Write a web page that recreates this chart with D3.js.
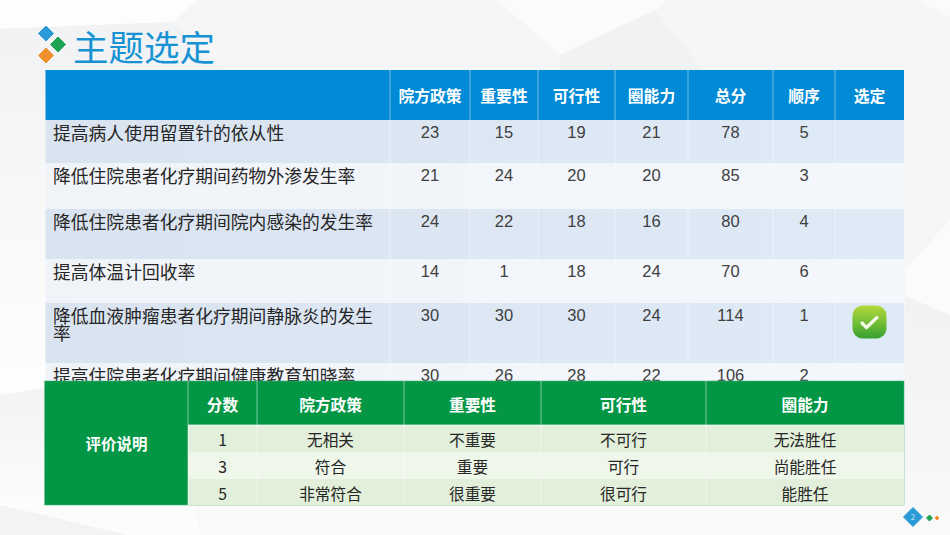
<!DOCTYPE html>
<html>
<head>
<meta charset="utf-8">
<script src="https://cdnjs.cloudflare.com/ajax/libs/d3/7.8.5/d3.min.js"></script>
<style>
  html, body { margin: 0; padding: 0; background: #fff; overflow: hidden; }
  text { font-family: "Noto Sans CJK SC", "Noto Sans", sans-serif; }
</style>
</head>
<body>
<svg id="chart" width="950" height="535"></svg>
<script>
const title = '主题选定'

// top table
const topColumns = ['', '院方政策', '重要性', '可行性', '圈能力', '总分', '顺序', '选定']
const topics = [
  ['提高病人使用留置针的依从性'],
  ['降低住院患者化疗期间药物外渗发生率'],
  ['降低住院患者化疗期间院内感染的发生率'],
  ['提高体温计回收率'],
  ['降低血液肿瘤患者化疗期间静脉炎的发生', '率'],
  ['提高住院患者化疗期间健康教育知晓率']
]
const policy = [23, 21, 24, 14, 30, 30]
const importance = [15, 24, 22, 1, 30, 26]
const feasibility = [19, 20, 18, 18, 30, 28]
const capability = [21, 20, 16, 24, 24, 22]
const total = [78, 85, 80, 70, 114, 106]
const rank = [5, 3, 4, 6, 1, 2]
const selected = 1

// bottom table
const legendTitle = '评价说明'
const legendColumns = ['分数', '院方政策', '重要性', '可行性', '圈能力']
const scores = [1, 3, 5]
const policyLabels = ['无相关', '符合', '非常符合']
const importanceLabels = ['不重要', '重要', '很重要']
const feasibilityLabels = ['不可行', '可行', '很可行']
const capabilityLabels = ['无法胜任', '尚能胜任', '能胜任']
const pageNumber = 2

const topX = [45.5, 390, 470, 538, 615, 688, 773, 835, 904]
const topY = [70, 120, 163, 209, 259, 303, 363, 408]
const lowX = [188, 257, 404, 541, 706, 904]
const lowY = [381, 425, 452, 479, 505]

const svg = d3.select('#chart')
const defs = svg.append('defs')

const gradient = (id, dir, stops) => {
  const g = defs.append('linearGradient').attr('id', id)
    .attr('x1', 0).attr('y1', 0)
    .attr('x2', dir === 'h' ? 1 : 0).attr('y2', dir === 'h' ? 0 : 1)
  stops.forEach(s => g.append('stop').attr('offset', s[0]).attr('stop-color', s[1]))
}
gradient('leftFade', 'v', [[0, '#f1f2f3'], [1, '#fefefe']])
gradient('lowerFade', 'v', [[0, '#f2f3f4'], [1, '#fcfcfc']])
gradient('rightFade', 'v', [[0, '#f2f2f3'], [1, '#f8f8f8']])
gradient('rowDark', 'h', [[0, '#dae4f0'], [1, '#dfeaf7']])
gradient('rowLight', 'h', [[0, '#f0f3f8'], [1, '#f4f7fb']])
gradient('badge', 'v', [[0, '#b5d83c'], [0.55, '#6fbd35'], [1, '#36a02f']])

// background facets
const bg = svg.append('g')
bg.append('rect').attr('width', 950).attr('height', 535).attr('fill', '#f6f6f7')
const facets = [
  ['M0,0H197L173,22L0,29Z', '#fdfdfd'],
  ['M0,29L173,22L220,70L250,390L45,388L0,395Z', 'url(#leftFade)'],
  ['M497,0H667L655,10L560,55Z', '#fbfbfb'],
  ['M560,55L655,10L703,70V380H560Z', '#f2f2f3'],
  ['M915,0H950V17Z', '#fbfbfb'],
  ['M905,270L950,220V315L905,296Z', '#fbfbfc'],
  ['M905,296L950,315V505H905Z', 'url(#rightFade)'],
  ['M0,395L45,388V505H0Z', 'url(#lowerFade)'],
  ['M0,505H195L200,535H127Z', '#fcfcfc'],
  ['M0,505L127,535H0Z', '#f2f3f5'],
  ['M195,505H950V535H200Z', '#f9f9f9']
]
bg.selectAll('path').data(facets).join('path')
  .attr('d', d => d[0]).attr('fill', d => d[1])

// logo
const diamond = (g, cx, cy, r, fill) => g.append('path')
  .attr('d', `M${cx},${cy - r}L${cx + r},${cy}L${cx},${cy + r}L${cx - r},${cy}Z`)
  .attr('fill', fill)
  .attr('stroke', fill).attr('stroke-width', 1).attr('stroke-linejoin', 'round')

const logo = svg.append('g')
diamond(logo, 46, 33.5, 7.5, '#2b9bd8')
diamond(logo, 58, 44.5, 7.5, '#1fa454')
diamond(logo, 46, 55.5, 7.5, '#f0912d')

svg.append('text')
  .attr('x', 73).attr('y', 61)
  .attr('font-size', 35.5)
  .attr('font-weight', 400)
  .attr('fill', '#1793d4')
  .text(title)

// top table
const topTable = svg.append('g')
const rowFills = ['url(#rowDark)', 'url(#rowLight)', 'url(#rowDark)', 'url(#rowLight)', 'url(#rowDark)', 'url(#rowLight)']
const rowIdx = d3.range(topics.length)

topTable.append('rect')
  .attr('x', topX[0]).attr('y', topY[0])
  .attr('width', topX[8] - topX[0]).attr('height', topY[1] - topY[0])
  .attr('fill', '#018ad5')

topTable.selectAll('.row').data(rowIdx).join('rect')
  .attr('class', 'row')
  .attr('x', topX[0]).attr('y', i => topY[i + 1])
  .attr('width', topX[8] - topX[0]).attr('height', i => topY[i + 2] - topY[i + 1])
  .attr('fill', i => rowFills[i])

// column separators
topTable.selectAll('.sep').data(topX.slice(1, 8)).join('line')
  .attr('class', 'sep')
  .attr('x1', d => d).attr('x2', d => d)
  .attr('y1', topY[0]).attr('y2', 381)
  .attr('stroke', '#fff').attr('stroke-opacity', 0.45)

const colMid = i => (topX[i] + topX[i + 1]) / 2

topTable.selectAll('.head').data(topColumns.slice(1)).join('text')
  .attr('class', 'head')
  .attr('x', (d, i) => colMid(i + 1)).attr('y', 102)
  .attr('text-anchor', 'middle')
  .attr('font-size', 15.8).attr('font-weight', 700).attr('fill', '#fff')
  .text(d => d)

// topic labels, wrapped lines go in one text
topTable.selectAll('.topic').data(topics).join('text')
  .attr('class', 'topic')
  .attr('y', (d, i) => topY[i + 1] + 19.5)
  .attr('font-size', 17.8).attr('fill', '#262626')
  .selectAll('tspan').data(d => d).join('tspan')
  .attr('x', 53)
  .attr('dy', (d, j) => j ? 17 : 0)
  .text(d => d)

// value cells
const valueColumns = [policy, importance, feasibility, capability, total, rank]
valueColumns.forEach((values, c) => {
  topTable.selectAll(`.v${c}`).data(values).join('text')
    .attr('class', `v${c}`)
    .attr('x', colMid(c + 1)).attr('y', (d, i) => topY[i + 1] + 17.5)
    .attr('text-anchor', 'middle')
    .attr('font-size', 16.5).attr('fill', '#404040')
    .style('font-family', '"Liberation Sans", Arial, sans-serif')
    .text(d => d)
})

// check badge on the selected row
const checkRow = rank.indexOf(selected)
const bx = colMid(7), by = topY[checkRow + 1] + 19
topTable.append('rect')
  .attr('x', bx - 17).attr('y', by - 16.5)
  .attr('width', 34).attr('height', 33).attr('rx', 10)
  .attr('fill', 'url(#badge)')
topTable.append('path')
  .attr('d', `M${bx - 7.5},${by + 1}L${bx - 3},${by + 5.5}L${bx + 7.5},${by - 4.5}`)
  .attr('fill', 'none').attr('stroke', '#f4f9ea')
  .attr('stroke-width', 3.2).attr('stroke-linecap', 'round').attr('stroke-linejoin', 'round')

// bottom table
const low = svg.append('g')
const green = '#029645'
low.append('rect')
  .attr('x', 44.7).attr('y', lowY[0])
  .attr('width', 859.3).attr('height', lowY[4] - lowY[0])
  .attr('fill', green)
  .attr('stroke', '#4cb57a').attr('stroke-width', 0.6)

const lowFills = ['#e2efda', '#eff6ea', '#e2efda']
low.selectAll('.lrow').data(scores).join('rect')
  .attr('class', 'lrow')
  .attr('x', lowX[0]).attr('y', (d, i) => lowY[i + 1])
  .attr('width', lowX[5] - lowX[0]).attr('height', (d, i) => lowY[i + 2] - lowY[i + 1])
  .attr('fill', (d, i) => lowFills[i])

low.selectAll('.lsep').data(lowX.slice(0, 5)).join('line')
  .attr('class', 'lsep')
  .attr('x1', d => d).attr('x2', d => d)
  .attr('y1', lowY[0]).attr('y2', lowY[4])
  .attr('stroke', '#fff').attr('stroke-opacity', 0.5)
low.append('line')
  .attr('x1', lowX[0]).attr('x2', lowX[5])
  .attr('y1', lowY[1]).attr('y2', lowY[1])
  .attr('stroke', '#fff').attr('stroke-opacity', 0.7)

const lowMid = i => (lowX[i] + lowX[i + 1]) / 2

low.append('text')
  .attr('x', 116.5).attr('y', 450)
  .attr('text-anchor', 'middle')
  .attr('font-size', 15.5).attr('font-weight', 700).attr('fill', '#fff')
  .text(legendTitle)

low.selectAll('.lhead').data(legendColumns).join('text')
  .attr('class', 'lhead')
  .attr('x', (d, i) => lowMid(i)).attr('y', 410.5)
  .attr('text-anchor', 'middle')
  .attr('font-size', 15.7).attr('font-weight', 700).attr('fill', '#fff')
  .text(d => d)

const lowColumns = [scores, policyLabels, importanceLabels, feasibilityLabels, capabilityLabels]
lowColumns.forEach((values, c) => {
  low.selectAll(`.l${c}`).data(values).join('text')
    .attr('class', `l${c}`)
    .attr('x', lowMid(c)).attr('y', (d, i) => lowY[i + 1] + 20.5)
    .attr('text-anchor', 'middle')
    .attr('font-size', 15.7).attr('fill', '#262626')
    .text(d => d)
})

// page marker
const marker = svg.append('g')
diamond(marker, 913, 517, 9.5, '#2b9bd8')
diamond(marker, 929.5, 518, 3, '#1fa454')
diamond(marker, 937, 518, 2, '#f0912d')
marker.append('text')
  .attr('x', 913).attr('y', 520)
  .attr('text-anchor', 'middle')
  .attr('font-size', 8).attr('fill', '#bfe3f7')
  .text(pageNumber)
</script>
</body>
</html>
